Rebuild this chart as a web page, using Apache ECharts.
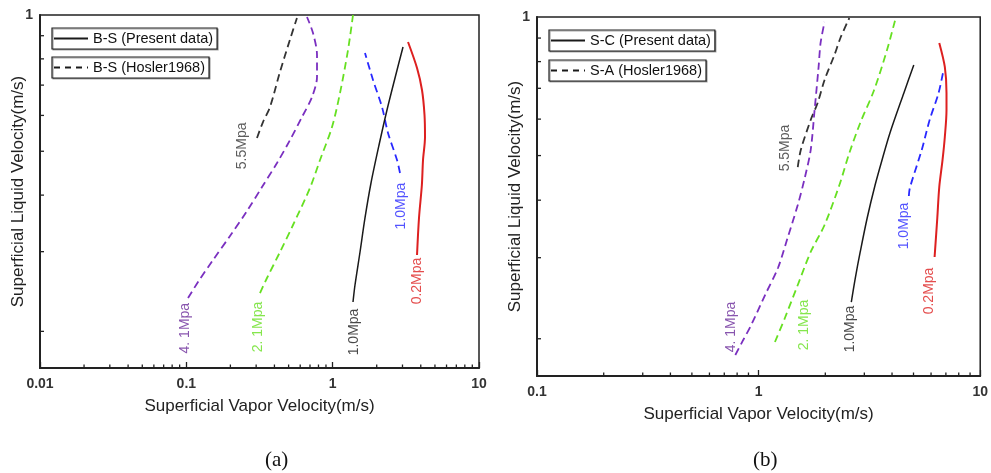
<!DOCTYPE html>
<html><head><meta charset="utf-8">
<script src="https://cdn.jsdelivr.net/npm/echarts@6/dist/echarts.min.js"></script>
<style>html,body{margin:0;padding:0;background:#fff}#c{width:991px;height:473px}</style>
</head><body><div id="c"></div>
<script>
// ---- Panel (a): [superficial vapor velocity, superficial liquid velocity] ----
const a_present_10 = [[1.377,0.2322],[1.421,0.2532],[1.538,0.2995],[1.663,0.3561],[1.828,0.4254],[2.074,0.5161],[2.351,0.6168],[2.667,0.7258],[3.025,0.8500]];
const a_present_02 = [[3.771,0.2949],[3.890,0.3561],[4.07,0.4211],[4.144,0.4782],[4.276,0.5375],[4.243,0.6014],[4.078,0.6828],[3.771,0.7637],[3.273,0.8717]];
const a_hosler_55 = [[0.304,0.535],[0.334,0.580],[0.373,0.626],[0.436,0.748],[0.510,0.881],[0.570,0.985]];
const a_hosler_41 = [[0.1027,0.2369],[0.1202,0.2571],[0.1522,0.2875],[0.1988,0.3249],[0.2598,0.3689],[0.3290,0.4169],[0.4165,0.4710],[0.5110,0.5293],[0.6173,0.5952],[0.7226,0.6590],[0.7816,0.7295],[0.7816,0.8159],[0.7339,0.9125],[0.6677,0.9899]];
const a_hosler_21 = [[0.3187,0.2431],[0.3558,0.2624],[0.4366,0.2995],[0.5358,0.3436],[0.6999,0.4148],[0.8194,0.4782],[0.9897,0.5655],[1.1225,0.6724],[1.273,0.8368],[1.377,1.0]];
const a_hosler_10 = [[2.885,0.4476],[2.753,0.4782],[2.389,0.5487],[2.174,0.6260],[1.887,0.7185],[1.663,0.8241]];
const a_labels = [[0.240,0.514,'5.5Mpa'],[0.0979,0.2033,'4. 1Mpa'],[0.3089,0.2045,'2. 1Mpa'],[2.931,0.3784,'1.0Mpa'],[1.399,0.1994,'1.0Mpa'],[3.771,0.2584,'0.2Mpa']];

// ---- Panel (b) ----
const b_present_10 = [[2.620,0.2403],[2.731,0.2710],[2.874,0.3087],[3.090,0.3659],[3.355,0.4315],[3.606,0.4891],[3.915,0.5598],[4.524,0.6838],[5.015,0.7865]];
const b_present_02 = [[6.225,0.3010],[6.402,0.3659],[6.535,0.4272],[6.761,0.4891],[6.923,0.5487],[7.045,0.6281],[7.045,0.6838],[6.923,0.7788],[6.535,0.8781]];
const b_hosler_55 = [[1.502,0.4722],[1.550,0.5141],[1.718,0.5974],[1.846,0.6504],[1.984,0.7297],[2.199,0.8269],[2.339,0.9002],[2.567,0.995]];
const b_hosler_41 = [[0.7851,0.1844],[0.8524,0.1988],[0.9256,0.2142],[1.0693,0.2489],[1.2225,0.2849],[1.3552,0.3327],[1.502,0.3905],[1.615,0.4469],[1.718,0.5141],[1.789,0.6281],[1.865,0.7788],[1.904,0.8781],[1.984,0.9752]];
const b_hosler_21 = [[1.185,0.1968],[1.314,0.2219],[1.502,0.2617],[1.718,0.3087],[1.984,0.3533],[2.315,0.4315],[2.567,0.5065],[2.874,0.5885],[3.321,0.6940],[3.797,0.8480],[4.166,1.0]];
const b_hosler_10 = [[4.764,0.4084],[4.813,0.4251],[5.445,0.5141],[5.912,0.5974],[6.488,0.6838],[6.831,0.7672]];
const b_labels = [[1.314,0.5193,'5.5Mpa'],[0.7534,0.2121,'4. 1Mpa'],[1.598,0.2142,'2. 1Mpa'],[4.524,0.3516,'1.0Mpa'],[2.594,0.2100,'1.0Mpa'],[5.912,0.2540,'0.2Mpa']];

// ---- Axes / ticks ----
const xRangeA = [0.01, 10];
const xRangeB = [0.1, 10];
const yRange = [0.166, 1];
const xMinorA = [0.02,0.03,0.04,0.05,0.06,0.07,0.08,0.09,0.2,0.3,0.4,0.5,0.6,0.7,0.8,0.9,2,3,4,5,6,7,8,9];
const xMinorB = [0.2,0.3,0.4,0.5,0.6,0.7,0.8,0.9,2,3,4,5,6,7,8,9];
const yMinor = [0.2,0.3,0.4,0.5,0.6,0.7,0.8,0.9];
const legendA = ['B-S (Present data)','B-S (Hosler1968)'];
const legendB = ['S-C (Present data)','S-A (Hosler1968)'];
const xTitle = 'Superficial Vapor Velocity(m/s)';
const yTitle = 'Superficial Liquid Velocity(m/s)';

const FONT = 'Liberation Sans, Arial, sans-serif';
const C = {black:'#1a1a1a', gray:'#333333', purple:'#7a2fc0', green:'#66e021', blue:'#2828ff', red:'#dd2020'};
const labelColors = [C.gray, '#6a2a9a', C.green, C.blue, C.black, C.red];
const DASH = [7.5,4.5];

function lineSeries(name, data, idx, color, dashed, width){
  return {type:'line', name, data, xAxisIndex:idx, yAxisIndex:idx, symbol:'none', smooth:0.3,
    lineStyle:{color, width:width||1.8, type: dashed?DASH:'solid'}, itemStyle:{color}, silent:true, z:3, animation:false};
}
function legendSeries(name, idx, dashed){
  return {type:'line', name, data:[], xAxisIndex:idx, yAxisIndex:idx, symbol:'none',
    lineStyle:{color:C.black, width:1.5, type: dashed?[6,5]:'solid'}, itemStyle:{color:C.black}};
}
function labelSeries(arr, idx){
  return {type:'scatter', xAxisIndex:idx, yAxisIndex:idx, symbolSize:0, silent:true, z:4, animation:false,
    data: arr.map((d,i)=>({value:[d[0],d[1]], label:{show:true, position:'inside', rotate:90, formatter:d[2],
      color:labelColors[i], fontSize:14, fontFamily:FONT}}))};
}
function xTicks(vals, idx, yv){
  return {type:'custom', xAxisIndex:idx, yAxisIndex:idx, silent:true, animation:false, clip:false, z:5,
    data: vals.map(v=>[v,yv]),
    renderItem:(p,api)=>{const cs=p.coordSys; const x=api.coord([api.value(0),api.value(1)])[0]; const yb=cs.y+cs.height;
      return {type:'line', shape:{x1:x,y1:yb,x2:x,y2:yb-3.5}, style:{stroke:'#222',lineWidth:1.3}};}};
}
function yTicks(vals, idx, xv){
  return {type:'custom', xAxisIndex:idx, yAxisIndex:idx, silent:true, animation:false, clip:false, z:5,
    data: vals.map(v=>[xv,v]),
    renderItem:(p,api)=>{const cs=p.coordSys; const y=api.coord([api.value(0),api.value(1)])[1];
      return {type:'line', shape:{x1:cs.x,y1:y,x2:cs.x+4,y2:y}, style:{stroke:'#222',lineWidth:1.3}};}};
}
function xAxis(range, idx){
  return {type:'log', logBase:10, gridIndex:idx, min:range[0], max:range[1],
    name:xTitle, nameLocation:'middle', nameGap:30, nameMoveOverlap:false,
    nameTextStyle:{fontSize:17, color:'#222', fontFamily:FONT},
    axisLine:{show:true, onZero:false, lineStyle:{color:'#222', width:2}},
    axisTick:{show:true, inside:true, length:6, lineStyle:{color:'#222', width:1.3}},
    axisLabel:{fontSize:14, fontWeight:'bold', color:'#333', fontFamily:FONT, margin:9},
    splitLine:{show:false}, minorTick:{show:false}};
}
function yAxis(idx){
  return {type:'log', logBase:10, gridIndex:idx, min:yRange[0], max:yRange[1],
    name:yTitle, nameLocation:'middle', nameGap:13, nameRotate:90, nameMoveOverlap:false,
    nameTextStyle:{fontSize:17, color:'#222', fontFamily:FONT},
    axisLine:{show:true, onZero:false, lineStyle:{color:'#222', width:2}},
    axisTick:{show:false},
    axisLabel:{fontSize:14, fontWeight:'bold', color:'#333', fontFamily:FONT, margin:7,
      formatter:v=> Math.abs(v-1)<1e-6 ? '1' : ''},
    splitLine:{show:false}};
}
function legend(name, left, top){
  return {data:[name], left, top, orient:'horizontal', selectedMode:false,
    borderColor:'#222', borderWidth:1.2, padding:[3,4,3,1], itemWidth:34, itemHeight:14,
    itemStyle:{opacity:0},
    textStyle:{fontSize:14.5, color:'#111', fontFamily:FONT},
    shadowColor:'rgba(0,0,0,0.35)', shadowOffsetX:1, shadowOffsetY:1, shadowBlur:0, backgroundColor:'#fff'};
}

const option = {
  backgroundColor:'#fff',
  animation:false,
  grid:[
    {left:40, top:15, width:439, height:353, show:true, borderColor:'#222', borderWidth:1.5, backgroundColor:'transparent'},
    {left:537, top:17, width:447, height:359, show:true, borderColor:'#222', borderWidth:1.5, backgroundColor:'transparent'}
  ],
  xAxis:[xAxis(xRangeA,0), xAxis(xRangeB,1)],
  yAxis:[yAxis(0), yAxis(1)],
  legend:[legend(legendA[0],52,28), legend(legendA[1],52,57), legend(legendB[0],549,30), legend(legendB[1],549,60)],
  graphic:[
    {type:'text', left:265, top:450, style:{text:'(a)', font:'21px "Liberation Serif", "Times New Roman", serif', fill:'#111'}},
    {type:'text', left:753, top:450, style:{text:'(b)', font:'21px "Liberation Serif", "Times New Roman", serif', fill:'#111'}}
  ],
  series:[
    legendSeries(legendA[0],0,false), legendSeries(legendA[1],0,true),
    legendSeries(legendB[0],1,false), legendSeries(legendB[1],1,true),
    lineSeries('a 5.5MPa Hosler', a_hosler_55, 0, C.gray, true),
    lineSeries('a 4.1MPa Hosler', a_hosler_41, 0, C.purple, true),
    lineSeries('a 2.1MPa Hosler', a_hosler_21, 0, C.green, true),
    lineSeries('a 1.0MPa Hosler', a_hosler_10, 0, C.blue, true),
    lineSeries('a 1.0MPa present', a_present_10, 0, C.black, false, 1.5),
    lineSeries('a 0.2MPa present', a_present_02, 0, C.red, false, 2),
    lineSeries('b 5.5MPa Hosler', b_hosler_55, 1, C.gray, true),
    lineSeries('b 4.1MPa Hosler', b_hosler_41, 1, C.purple, true),
    lineSeries('b 2.1MPa Hosler', b_hosler_21, 1, C.green, true),
    lineSeries('b 1.0MPa Hosler', b_hosler_10, 1, C.blue, true),
    lineSeries('b 1.0MPa present', b_present_10, 1, C.black, false, 1.5),
    lineSeries('b 0.2MPa present', b_present_02, 1, C.red, false, 2),
    labelSeries(a_labels,0), labelSeries(b_labels,1),
    xTicks(xMinorA,0,0.5), xTicks(xMinorB,1,0.5),
    yTicks(yMinor,0,xRangeA[0]), yTicks(yMinor,1,xRangeB[0])
  ]
};
const chart = echarts.init(document.getElementById('c'), null, {renderer:'canvas'});
chart.setOption(option);
</script></body></html>
